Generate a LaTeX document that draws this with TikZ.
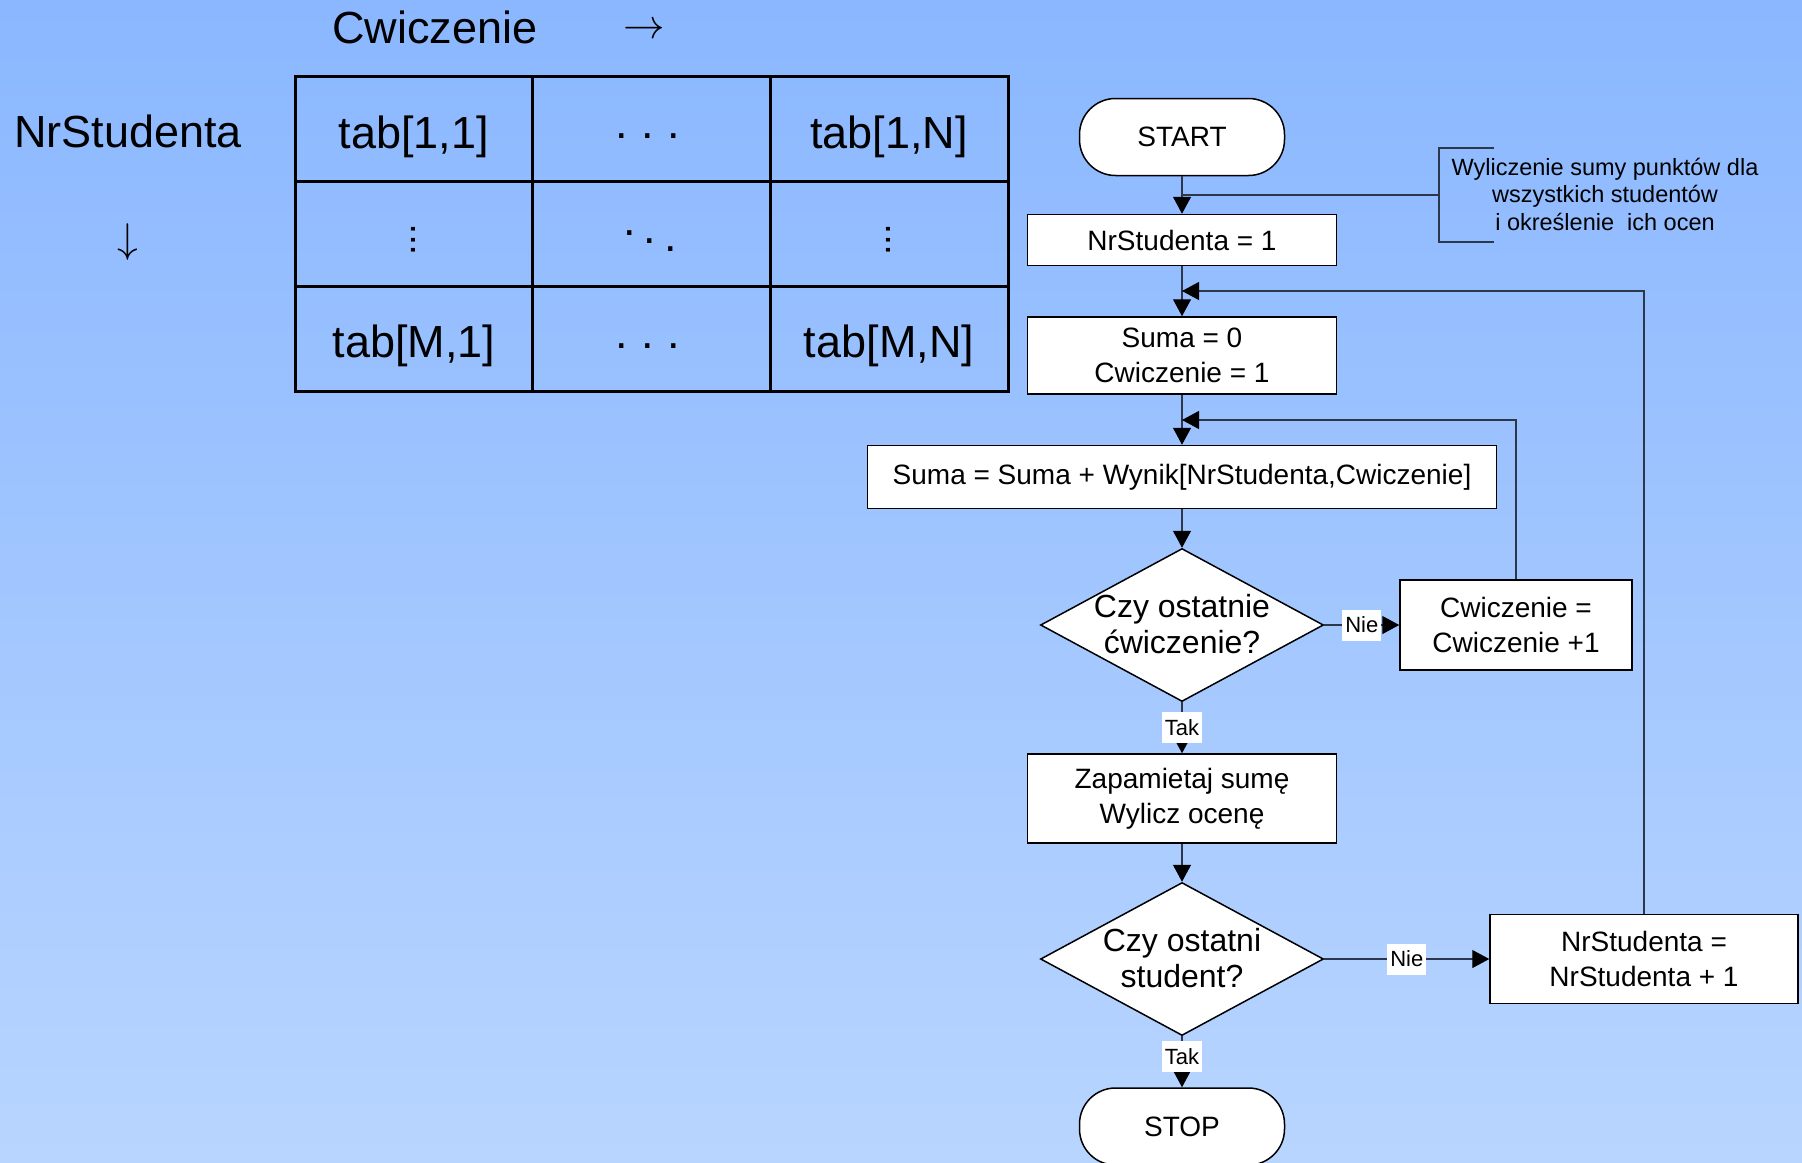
\documentclass[tikz,border=0pt]{standalone}
\usepackage{fontspec}
\setmainfont{Liberation Sans}
\usetikzlibrary{shapes.geometric,arrows.meta}

\definecolor{bgtop}{RGB}{138,183,255}
\definecolor{bgbot}{RGB}{184,213,255}
\definecolor{wire}{RGB}{45,55,75}

\newcommand\fs[2]{\fontsize{#1}{#2}\selectfont}
% dot leaders for the array cells
\newcommand\rowdots{.\hspace{6.75pt}.\hspace{6.75pt}.}
\newcommand\diagdots{\raisebox{8pt}{.}\hspace{4pt}\raisebox{4pt}{.}\hspace{4pt}.}

\begin{document}
\begin{tikzpicture}[x=0.5pt,y=-0.5pt,
  big/.style={font=\fs{22.5}{27}, inner sep=0pt},
  coldots/.style={font=\fs{19}{19}, inner sep=0pt, rotate=90},
  grid/.style={draw=black, line width=1.5pt},
  box/.style={draw=black, line width=0.75pt, fill=white, inner sep=0pt,
    align=center, font=\fs{14}{17.5}},
  terminal/.style={box, rounded corners=18pt, minimum width=102.5pt, minimum height=38.5pt},
  decision/.style={draw=black, line width=0.75pt, fill=white, diamond, inner sep=0pt,
    minimum width=141.5pt, minimum height=76.5pt},
  dtext/.style={align=center, font=\fs{16}{18}, inner sep=0pt},
  wireline/.style={draw=wire, line width=0.6pt},
  arr/.style={wireline, -{Triangle[length=8.5pt,width=9pt,color=black]}},
  lbl/.style={fill=white, font=\fs{11}{11}, inner xsep=1.5pt, inner ysep=0pt,
    minimum height=15.5pt}
]
\useasboundingbox (0,0) rectangle (1802,1162);
\clip (0,0) rectangle (1802,1162);
\shade[top color=bgtop, bottom color=bgbot] (0,0) rectangle (1802,1162);

% ---- array tab[M,N] ----
\node[big] (colhead) at (435,27) {Cwiczenie};
\node[inner sep=0pt, font=\fs{22.5}{27}] (colarrow) at (644,31) {$\rightarrow$};
\node[big] (rowhead) at (128,131.5) {NrStudenta};
\node[inner sep=0pt, font=\fs{20}{24}] (rowarrow) at (128,242) {$\downarrow$};

\coordinate (tl) at (295,76);
\coordinate (br) at (1008,391);
\draw[grid] (tl) rectangle (br);
\draw[grid] (532.7,76) -- (532.7,391);
\draw[grid] (770.3,76) -- (770.3,391);
\draw[grid] (295,181) -- (1008,181);
\draw[grid] (295,286) -- (1008,286);

\node[big] (c11) at (413.8,137) {tab[1,1]};
\node[big] (c12) at (648,136.5) {\rowdots};
\node[big] (c13) at (889,137) {tab[1,N]};
\node[coldots] (c21) at (413.8,240) {...};
\node[big] (c22) at (650,241) {\diagdots};
\node[coldots] (c23) at (888,240) {...};
\node[big] (c31) at (413.8,346) {tab[M,1]};
\node[big] (c32) at (648,346.5) {\rowdots};
\node[big] (c33) at (889,346) {tab[M,N]};

% ---- flowchart ----
\node[terminal] (start) at (1182,137) {START};
\node[box, minimum width=154.5pt, minimum height=25.5pt] (n1) at (1182,240) {NrStudenta = 1};
\node[box, minimum width=154.5pt, minimum height=38.5pt] (s0) at (1182,355.5) {Suma = 0\\Cwiczenie = 1};
\node[box, minimum width=314.5pt, minimum height=31.5pt] (sum) at (1182,477) {Suma = Suma + Wynik[NrStudenta,Cwiczenie]};
\node[decision] (d1) at (1182,625) {};
\node[dtext] (d1t) at (1182,624) {Czy ostatnie\\ćwiczenie?};
\node[box, minimum width=116pt, minimum height=45pt] (cw) at (1516,625) {Cwiczenie =\\Cwiczenie +1};
\node[box, minimum width=154.5pt, minimum height=44.5pt] (zap) at (1182,798.5) {Zapamietaj sumę\\Wylicz ocenę};
\node[decision] (d2) at (1182,959) {};
\node[dtext] (d2t) at (1182,958) {Czy ostatni\\student?};
\node[box, minimum width=154pt, minimum height=44.5pt] (ns) at (1644,959) {NrStudenta =\\NrStudenta + 1};
\node[terminal] (stop) at (1182,1126.5) {STOP};

% comment bracket
\coordinate (j0) at (1182,195);
\coordinate (bm) at (1439,195);
\coordinate (bt) at (1439,148);
\coordinate (bb) at (1439,242);
\coordinate (bte) at (1494,148);
\coordinate (bbe) at (1494,242);
\draw[wireline] (j0) -- (bm);
\draw[wireline] (bte) -- (bt) -- (bb) -- (bbe);
\node[align=center, font=\fs{11.75}{13.75}, inner sep=0pt] (note) at (1605,194)
  {Wyliczenie sumy punktów dla\\wszystkich studentów\\i określenie\ \ ich ocen};

% main flow
\draw[arr] (start) -- (n1);
\draw[arr] (n1) -- (s0);
\draw[arr] (s0) -- (sum);
\draw[arr] (sum) -- (d1.north);
\draw[arr] (d1.east) -- node[lbl] (nie1) {Nie} (cw.west);
\draw[arr] (d1.south) -- node[lbl] (tak1) {Tak} (zap.north);
\draw[arr] (zap) -- (d2.north);
\draw[arr] (d2.east) -- node[lbl] (nie2) {Nie} (ns.west);
\draw[arr] (d2.south) -- node[lbl, pos=0.4] (tak2) {Tak} (stop.north);

% loop-backs
\coordinate (jA) at (1182,291);
\coordinate (jB) at (1182,420);
\draw[arr] (ns.north) |- (jA);
\draw[arr] (cw.north) |- (jB);
\end{tikzpicture}
\end{document}
